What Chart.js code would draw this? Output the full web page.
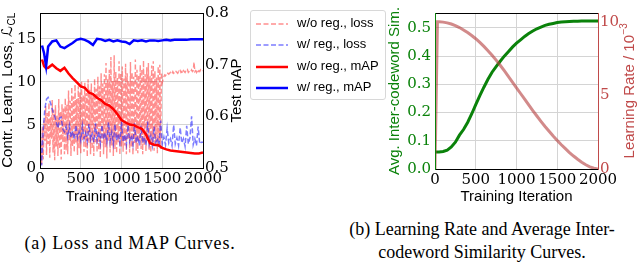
<!DOCTYPE html>
<html>
<head>
<meta charset="utf-8">
<script src="https://cdn.jsdelivr.net/npm/chart.js@4.4.1/dist/chart.umd.min.js"></script>
<style>
  body { margin: 0; background: #fff; width: 640px; height: 267px; position: relative; overflow: hidden; }
  canvas { position: absolute; top: 0; }
  #lossChart { left: 0; }
  #lrChart { left: 380px; }
  #legend { position: absolute; left: 250px; top: 10px; width: 134px; height: 88px; border: 1px solid #d8d8d8; border-radius: 3px; background: rgba(255,255,255,0.85); font: 13px "Liberation Sans", Arial, sans-serif; color: #000; }
  .item { position: absolute; left: 0; height: 16px; line-height: 16px; white-space: nowrap; }
  .item svg { position: absolute; left: 4px; top: 7px; }
  .item span { position: absolute; left: 46px; top: 0; }
  .caption { position: absolute; font: 18px "Liberation Serif", "Times New Roman", serif; color: #000; text-align: center; line-height: 23px; white-space: nowrap; }
</style>
</head>
<body>
<canvas id="lossChart" width="250" height="210"></canvas>
<canvas id="lrChart" width="260" height="210"></canvas>
<div id="legend"></div>
<div class="caption" style="left:0; top:232px; width:260px; letter-spacing:0.8px;">(a)&nbsp;Loss and MAP Curves.</div>
<div class="caption" style="left:332px; top:218px; width:300px;">(b) Learning Rate and Average Inter-<br>codeword Similarity Curves.</div>
<script>
// ---- (a) loss / mAP
// loss w/o reg. logged every 10 iterations, loss w/ reg. every 20
const noRegStep = 10;
const lossNoReg = [6.5, 2.0, 0.4, 4.8, 1.0, 5.5,
  3.1, 7.2, 1.5, 6.4, 2.8, 7.6, 1.2, 5.9, 3.4, 7.9, 1.8, 6.8, 0.9, 7.3, 2.5, 6.1, 1.4, 8.0, 2.2, 6.6, 1.0, 7.4, 3.0, 6.9, 1.6,
  8.1, 2.0, 7.4, 1.6, 9.0, 3.1, 7.8, 1.4, 9.4, 2.5, 8.3, 1.8, 9.7, 2.9, 8.0, 1.5, 9.5, 2.3, 8.8, 1.7,
  10.1, 3.2, 8.5, 1.9, 9.9, 2.4, 8.7, 1.3, 10.3, 2.8, 9.1, 1.6, 9.8, 2.2, 8.6, 1.4, 10.4, 3.0, 9.2, 1.8,
  10.6, 2.1, 9.5, 1.2, 11.0, 2.9, 9.8, 1.6, 10.9, 2.4, 12.2, 1.1, 10.3, 3.1, 11.4,
  1.8, 12.9, 2.6, 10.1, 1.4, 13.1, 2.2, 11.2, 1.7, 10.5, 3.0, 12.4, 1.5, 11.0, 2.5,
  11.8, 1.9, 10.4, 2.6, 12.1, 1.6, 11.0, 3.3, 10.2, 1.8, 12.3, 2.4, 11.1, 1.5, 10.6, 2.9, 12.6,
  2.0, 11.4, 1.7, 10.8, 3.1, 12.0, 2.2, 11.5, 1.6, 12.5, 2.7, 10.9, 1.9, 11.7, 3.2, 12.2,
  2.1, 10.7, 1.8, 11.9, 2.6, 12.4, 2.0, 11.3, 3.0, 10.5, 1.7, 11.8, 2.5, 12.0, 2.2, 11.1,
  9.9, 10.3, 10.6, 10.8, 10.7, 10.9, 10.8, 11.0, 10.9, 11.0, 11.1, 10.9, 11.0, 11.2, 11.0, 11.1, 11.0,
  11.2, 11.1, 11.0, 11.2, 11.1, 11.3, 11.1, 11.2, 11.0, 11.3, 11.2, 11.1, 11.3, 11.2, 11.4, 11.1,
  11.2, 11.3, 11.2, 11.4, 11.2, 11.3, 12.3, 11.2, 11.3, 11.1, 11.4, 11.2, 11.3, 11.2, 11.4, 11.3, 11.2, 11.3];
const regStep = 20;
const lossReg = [5.8, 0.3, 4.5, 6.9, 8.0, 8.2, 7.8, 7.2, 6.5, 6.0,
  5.3, 4.6, 5.8, 5.9, 4.5, 4.2, 4.8, 3.6, 4.9, 3.5,
  4.3, 3.3, 5.0, 3.5, 4.2, 3.2, 4.9, 3.4, 4.1, 3.1,
  5.1, 3.3, 4.0, 3.0, 5.2, 3.2, 4.3, 2.9, 5.0, 3.3,
  4.1, 3.0, 5.3, 3.1, 4.2, 2.8, 5.1, 3.2, 4.0, 2.9,
  5.4, 3.0, 3.9, 2.7, 5.0, 3.1, 3.8, 2.7, 5.2, 2.9,
  3.7, 2.6, 4.9, 2.9, 3.6, 2.6, 5.4, 2.8, 3.7, 2.6,
  4.8, 2.9, 3.5, 2.6, 5.5, 2.8, 3.6, 2.7, 4.6, 2.9,
  3.4, 2.6, 5.0, 2.8, 3.5, 2.6, 4.7, 2.9, 3.4, 2.5,
  4.9, 2.8, 3.5, 6.0, 2.7, 3.4, 2.6, 4.8, 2.8, 3.0, 3.0];
const mapIters = [25, 50, 75, 100, 150, 200, 250, 300, 350, 400,
  450, 500, 550, 600, 650, 700, 750, 800, 850, 900,
  950, 1000, 1050, 1100, 1150, 1200, 1250, 1300, 1350, 1400,
  1450, 1500, 1550, 1600, 1650, 1700, 1750, 1800, 1850, 1900, 1950, 2000];
const mapNoReg = [0.710, 0.697, 0.693, 0.694, 0.700, 0.693, 0.688, 0.694, 0.683, 0.674,
  0.666, 0.658, 0.655, 0.646, 0.643, 0.636, 0.631, 0.624, 0.621, 0.614,
  0.604, 0.593, 0.588, 0.584, 0.583, 0.579, 0.576, 0.565, 0.548, 0.545,
  0.544, 0.539, 0.536, 0.534, 0.533, 0.532, 0.531, 0.530, 0.529, 0.528, 0.528, 0.530];
const mapReg = [0.737, 0.722, 0.697, 0.735, 0.745, 0.747, 0.735, 0.732, 0.737, 0.742,
  0.748, 0.750, 0.748, 0.744, 0.738, 0.750, 0.749, 0.746, 0.748, 0.745,
  0.747, 0.745, 0.744, 0.740, 0.747, 0.746, 0.747, 0.745, 0.747, 0.747,
  0.746, 0.747, 0.748, 0.747, 0.748, 0.748, 0.748, 0.748, 0.749, 0.749, 0.749, 0.749];
const iterTicks = [0, 500, 1000, 1500, 2000];
const lossTicks = [0, 5, 10, 15];
const mapTicks = [0.5, 0.6, 0.7, 0.8];

// ---- (b) learning rate / similarity
const lrIters = [0, 30, 50, 100, 150, 200, 250, 300, 350, 400,
  450, 500, 550, 600, 650, 700, 750, 800, 850, 900,
  950, 1000, 1050, 1100, 1150, 1200, 1250, 1300, 1350, 1400,
  1450, 1500, 1550, 1600, 1650, 1700, 1750, 1800, 1850, 1900, 1950, 2000];
const lrValues = [0, 10.0, 10.0, 9.98, 9.93, 9.85, 9.74, 9.61, 9.45, 9.27,
  9.07, 8.85, 8.60, 8.33, 8.04, 7.73, 7.40, 7.05, 6.68, 6.30,
  5.91, 5.52, 5.13, 4.74, 4.35, 3.97, 3.60, 3.24, 2.89, 2.56,
  2.24, 1.94, 1.65, 1.38, 1.12, 0.88, 0.66, 0.46, 0.29, 0.15, 0.05, 0.0];
const simValues = [0.060, 0.060, 0.060, 0.062, 0.067, 0.078, 0.095, 0.120, 0.140, 0.165,
  0.195, 0.228, 0.260, 0.290, 0.318, 0.343, 0.363, 0.382, 0.400, 0.416,
  0.432, 0.446, 0.458, 0.470, 0.480, 0.489, 0.497, 0.503, 0.509, 0.513,
  0.516, 0.519, 0.521, 0.522, 0.523, 0.524, 0.524, 0.525, 0.525, 0.525, 0.525, 0.525];
const simTicks = [0, 0.1, 0.2, 0.3, 0.4, 0.5];
const lrTicks = [0, 5, 10];

const tickFont = { family: '"DejaVu Serif", serif', size: 15 };
const sans = '"Liberation Sans", "DejaVu Sans", Arial, sans-serif';
const gridColor = '#d4d4d4';
const simGreen = '#0a820a';
const lrRed = '#c04a4a';
Chart.defaults.font.family = sans;
Chart.defaults.color = '#000';

function pts(xs, ys) {
  return ys.map((y, i) => ({ x: xs[i], y: y }));
}
function stepped(step, ys) {
  return ys.map((y, i) => ({ x: i * step, y: y }));
}
function fixedTicks(values) {
  return function (scale) { scale.ticks = values.map(v => ({ value: v })); };
}

// rotated y titles, reading bottom-to-top like matplotlib, with sub/superscript
const sideTitles = {
  id: 'sideTitles',
  afterDraw(chart, args, opts) {
    const ctx = chart.ctx;
    const area = chart.chartArea;
    opts.items.forEach(t => {
      const scale = chart.scales[t.axis];
      const x = scale.position === 'left' ? scale.left + t.offset : scale.right - t.offset;
      ctx.save();
      ctx.translate(x, (area.top + area.bottom) / 2);
      ctx.rotate(-Math.PI / 2);
      ctx.fillStyle = t.color;
      ctx.textBaseline = 'middle';
      ctx.textAlign = 'left';
      ctx.font = '15px ' + sans;
      const w = ctx.measureText(t.text).width;
      const extra = t.sub || t.sup || '';
      ctx.font = '10px ' + sans;
      const w2 = extra ? ctx.measureText(extra).width : 0;
      const x0 = -(w + w2) / 2;
      ctx.font = '15px ' + sans;
      ctx.fillText(t.text, x0, 0);
      if (extra) {
        ctx.font = '10px ' + sans;
        ctx.fillText(extra, x0 + w + 0.5, t.sub ? 4 : -6);
      }
      ctx.restore();
    });
  }
};

// axes frame drawn on top of the data
const spines = {
  id: 'spines',
  afterDatasetsDraw(chart, args, opts) {
    const ctx = chart.ctx;
    const a = chart.chartArea;
    ctx.save();
    ctx.lineWidth = 1;
    const seg = (c, x1, y1, x2, y2) => {
      ctx.strokeStyle = c;
      ctx.beginPath(); ctx.moveTo(x1, y1); ctx.lineTo(x2, y2); ctx.stroke();
    };
    seg(opts.top, a.left, a.top + 0.5, a.right, a.top + 0.5);
    seg(opts.bottom, a.left, a.bottom + 0.5, a.right, a.bottom + 0.5);
    seg(opts.left, a.left + 0.5, a.top, a.left + 0.5, a.bottom + 1);
    seg(opts.right, a.right + 0.5, a.top, a.right + 0.5, a.bottom + 1);
    ctx.restore();
  }
};

function xAxis(h) {
  return {
    type: 'linear', min: 0, max: 2000,
    afterBuildTicks: fixedTicks(iterTicks),
    afterFit: s => { s.height = h; },
    grid: { color: gridColor, drawTicks: false },
    border: { display: false },
    ticks: { font: tickFont, padding: 2, maxRotation: 0, autoSkip: false, callback: v => String(v) },
    title: { display: true, text: 'Training Iteration', font: { size: 15 }, padding: { top: 0, bottom: 4 } }
  };
}

const lossChart = new Chart(document.getElementById('lossChart'), {
  type: 'line',
  data: {
    datasets: [
      { label: 'w/o reg., loss', data: stepped(noRegStep, lossNoReg), yAxisID: 'y',
        borderColor: 'rgba(255,30,30,0.5)', borderWidth: 1.4, borderDash: [5, 2.5], order: 4 },
      { label: 'w/ reg., loss', data: stepped(regStep, lossReg), yAxisID: 'y',
        borderColor: 'rgba(30,30,255,0.58)', borderWidth: 1.5, borderDash: [5, 2.5], order: 3 },
      { label: 'w/o reg., mAP', data: pts(mapIters, mapNoReg), yAxisID: 'y1',
        borderColor: '#ff0000', borderWidth: 2.5, order: 2 },
      { label: 'w/ reg., mAP', data: pts(mapIters, mapReg), yAxisID: 'y1',
        borderColor: '#0000ff', borderWidth: 2.5, order: 1 }
    ]
  },
  options: {
    responsive: false,
    animation: false,
    elements: { point: { radius: 0 }, line: { tension: 0, fill: false } },
    layout: { padding: { top: 6, left: 0, right: 0, bottom: 0 } },
    plugins: {
      legend: { display: false },
      tooltip: { enabled: false },
      sideTitles: { items: [
        { axis: 'y', offset: 8, text: 'Contr. Learn. Loss, \u2112', sub: 'CL', color: '#000' },
        { axis: 'y1', offset: 13, text: 'Test mAP', color: '#000' }
      ] },
      spines: { top: '#000', bottom: '#000', left: '#000', right: '#000' }
    },
    scales: {
      x: xAxis(42),
      y: {
        position: 'left', min: 0, max: 18,
        afterBuildTicks: fixedTicks(lossTicks),
        afterFit: s => { s.width = 40; },
        grid: { color: gridColor, drawTicks: false },
        border: { display: false },
        ticks: { font: tickFont, padding: 4 }
      },
      y1: {
        position: 'right', min: 0.5, max: 0.8,
        afterBuildTicks: fixedTicks(mapTicks),
        afterFit: s => { s.width = 47; },
        grid: { display: false, drawTicks: false },
        border: { display: false },
        ticks: { font: tickFont, padding: 2, callback: v => v.toFixed(1) }
      }
    }
  },
  plugins: [sideTitles, spines]
});

// html legend built from the chart's datasets
const legendBox = document.getElementById('legend');
lossChart.data.datasets.forEach((ds, i) => {
  const row = document.createElement('div');
  row.className = 'item';
  row.style.top = (4 + i * 21.3) + 'px';
  const dash = ds.borderDash ? ' stroke-dasharray="' + ds.borderDash.join(' ') + '"' : '';
  row.innerHTML = '<svg width="34" height="4"><line x1="1" y1="2" x2="33" y2="2" stroke="' + ds.borderColor +
    '" stroke-width="' + (ds.borderDash ? 1.5 : 2.5) + '"' + dash + '/></svg><span>' + ds.label + '</span>';
  legendBox.appendChild(row);
});

new Chart(document.getElementById('lrChart'), {
  type: 'line',
  data: {
    datasets: [
      { label: 'Avg. inter-codeword similarity', data: pts(lrIters, simValues), yAxisID: 'y',
        borderColor: simGreen, borderWidth: 3, order: 2 },
      { label: 'Learning rate', data: pts(lrIters, lrValues), yAxisID: 'y1',
        borderColor: 'rgba(180,60,60,0.6)', borderWidth: 3, order: 1 }
    ]
  },
  options: {
    responsive: false,
    animation: false,
    elements: { point: { radius: 0 }, line: { tension: 0, fill: false } },
    layout: { padding: { top: 7, left: 0, right: 0, bottom: 0 } },
    plugins: {
      legend: { display: false },
      tooltip: { enabled: false },
      sideTitles: { items: [
        { axis: 'y', offset: 15, text: 'Avg. Inter-codeword Sim.', color: simGreen },
        { axis: 'y1', offset: 10, text: 'Learning Rate / 10', sup: '\u22123', color: lrRed }
      ] },
      spines: { top: '#000', bottom: '#000', left: simGreen, right: lrRed }
    },
    scales: {
      x: xAxis(41),
      y: {
        position: 'left', min: 0, max: 0.553,
        afterBuildTicks: fixedTicks(simTicks),
        afterFit: s => { s.width = 55; },
        grid: { color: gridColor, drawTicks: false },
        border: { display: false },
        ticks: { color: simGreen, font: tickFont, padding: 4, callback: v => v.toFixed(1) }
      },
      y1: {
        position: 'right', min: 0, max: 10.6,
        afterBuildTicks: fixedTicks(lrTicks),
        afterFit: s => { s.width = 42; },
        grid: { display: false, drawTicks: false },
        border: { display: false },
        ticks: { color: lrRed, font: tickFont, padding: 2, callback: v => String(v) }
      }
    }
  },
  plugins: [sideTitles, spines]
});
</script>
</body>
</html>
